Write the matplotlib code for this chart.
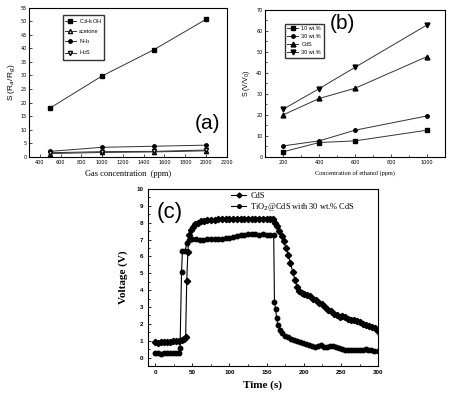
import matplotlib
matplotlib.use("Agg")
import matplotlib.pyplot as plt
from matplotlib.ticker import MultipleLocator

# (a) response vs gas concentration
conc_a = [500, 1000, 1500, 2000]
s_ethanol = [18.0, 29.8, 39.5, 50.7]
s_acetone = [1.2, 1.6, 1.8, 2.2]
s_nh3 = [2.0, 3.5, 3.9, 4.3]
s_h2s = [1.5, 1.9, 2.0, 2.5]

# (b) response vs ethanol concentration
conc_b = [200, 400, 600, 1000]
s_10wt = [2.4, 6.8, 7.6, 12.7]
s_30wt = [5.2, 7.6, 12.7, 19.5]
s_cds = [20.0, 27.8, 32.7, 47.8]
s_30wt_b = [22.7, 32.5, 42.7, 62.9]

# (c) voltage transients
t_cds = [0, 4, 8, 12, 16, 20, 24, 28, 32, 36, 39, 41, 42.5, 44, 45.5, 48, 51, 54, 58, 62,
         66, 70, 75, 80, 85, 90, 95, 100, 105, 110, 115, 120, 125, 130, 135, 140, 145, 150,
         155, 158, 161, 164, 167, 170, 173, 176, 179, 182, 185, 188, 191, 194, 197, 200,
         204, 208, 212, 216, 220, 224, 228, 232, 236, 240, 244, 248, 252, 256, 260, 264,
         268, 272, 276, 280, 284, 288, 292, 296, 300]
v_cds = [0.90, 0.88, 0.90, 0.92, 0.93, 0.95, 0.97, 0.98, 1.00, 1.03, 1.10, 1.20, 4.56, 6.25,
         7.30, 7.55, 7.75, 7.90, 8.00, 8.08, 8.12, 8.14, 8.16, 8.18, 8.20, 8.20, 8.20, 8.22,
         8.22, 8.22, 8.22, 8.22, 8.24, 8.24, 8.24, 8.24, 8.22, 8.22, 8.22, 8.20, 8.00, 7.80,
         7.50, 7.20, 6.90, 6.50, 6.10, 5.60, 5.10, 4.60, 4.20, 3.95, 3.85, 3.80, 3.70, 3.65,
         3.50, 3.40, 3.25, 3.15, 3.00, 2.85, 2.75, 2.60, 2.50, 2.40, 2.45, 2.40, 2.30, 2.25,
         2.20, 2.15, 2.10, 2.00, 1.95, 1.90, 1.82, 1.75, 1.60]

t_tio2 = [0, 4, 8, 12, 16, 20, 24, 28, 32, 33.5, 35.5, 36.7, 40, 43, 46, 50, 55, 60, 65, 70,
          75, 80, 85, 90, 95, 100, 105, 110, 115, 120, 125, 130, 135, 140, 145, 150, 155,
          159.5, 160.5, 162, 163.5, 165, 168, 171, 175, 179, 183, 187, 191, 195, 199, 203,
          207, 211, 215, 219, 223, 227, 231, 235, 239, 243, 247, 251, 255, 259, 263, 267,
          271, 275, 279, 283, 287, 291, 295, 300]
v_tio2 = [0.25, 0.25, 0.24, 0.25, 0.25, 0.25, 0.26, 0.26, 0.28, 0.56, 5.06, 6.30, 6.32, 6.80,
          7.00, 7.05, 7.02, 7.00, 7.00, 7.02, 7.02, 7.03, 7.05, 7.05, 7.10, 7.12, 7.18, 7.22,
          7.25, 7.28, 7.32, 7.35, 7.32, 7.30, 7.32, 7.30, 7.30, 7.30, 3.28, 2.88, 2.34, 1.95,
          1.65, 1.45, 1.30, 1.22, 1.12, 1.05, 0.98, 0.92, 0.85, 0.78, 0.72, 0.66, 0.62, 0.68,
          0.72, 0.62, 0.62, 0.66, 0.66, 0.60, 0.55, 0.50, 0.47, 0.45, 0.44, 0.42, 0.44, 0.42,
          0.43, 0.52, 0.42, 0.42, 0.41, 0.40]

sans = "Liberation Sans"
serif = "Liberation Serif"
lc = "#333333"

fig = plt.figure(figsize=(4.51, 3.99), dpi=100)

# ---- panel (a)
ax1 = fig.add_axes([0.065, 0.607, 0.438, 0.374])
ax1.plot(conc_a, s_ethanol, color=lc, lw=0.7, marker="s", ms=2.5, mfc="black", mec="black", label="C$_2$H$_5$OH")
ax1.plot(conc_a, s_acetone, color=lc, lw=0.7, marker="^", ms=3, mfc="white", mec="black", label="acetone")
ax1.plot(conc_a, s_nh3, color=lc, lw=0.7, marker="o", ms=2.5, mfc="black", mec="black", label="NH$_3$")
ax1.plot(conc_a, s_h2s, color=lc, lw=0.7, marker="v", ms=3, mfc="white", mec="black", label="H$_2$S")
ax1.set_xlim(300, 2200)
ax1.set_ylim(0, 55)
ax1.xaxis.set_major_locator(MultipleLocator(200))
ax1.yaxis.set_major_locator(MultipleLocator(5))
ax1.tick_params(direction="in", labelsize=3.5, length=2, width=0.5, pad=2)
ax1.set_xlabel("Gas concentration  (ppm)", fontsize=6, family=serif, labelpad=4)
ax1.set_ylabel("S (R$_a$/R$_g$)", fontsize=6, family=sans, labelpad=2)
ax1.text(0.9, 0.226, "(a)", transform=ax1.transAxes, fontsize=15, family=sans, ha="center", va="center")
ax1.legend(loc="upper left", bbox_to_anchor=(0.155, 0.968), frameon=True, fancybox=False,
           edgecolor="black", handlelength=2, borderpad=0.4, labelspacing=0.5, handletextpad=0.5,
           prop={"family": sans, "size": 4})

# ---- panel (b)
ax2 = fig.add_axes([0.588, 0.607, 0.399, 0.368])
ax2.plot(conc_b, s_10wt, color=lc, lw=0.7, marker="s", ms=2.5, mfc="black", mec="black", label="10 wt.%")
ax2.plot(conc_b, s_30wt, color=lc, lw=0.7, marker="o", ms=2.5, mfc="black", mec="black", label="30 wt.%")
ax2.plot(conc_b, s_cds, color=lc, lw=0.7, marker="^", ms=3.5, mfc="black", mec="black", label="CdS")
ax2.plot(conc_b, s_30wt_b, color=lc, lw=0.7, marker="v", ms=3.5, mfc="black", mec="black", label="30 wt.%")
ax2.set_xlim(100, 1100)
ax2.set_ylim(0, 70)
ax2.xaxis.set_major_locator(MultipleLocator(200))
ax2.xaxis.set_minor_locator(MultipleLocator(100))
ax2.yaxis.set_major_locator(MultipleLocator(10))
ax2.yaxis.set_minor_locator(MultipleLocator(5))
ax2.tick_params(which="both", direction="in", labelsize=3.5, width=0.5, pad=2)
ax2.tick_params(which="major", length=2)
ax2.tick_params(which="minor", length=1.2)
ax2.set_xlabel("Concentration of ethanol (ppm)", fontsize=4.5, family=serif, labelpad=4)
ax2.set_ylabel("S (V/V$_0$)", fontsize=5, family=sans, labelpad=3)
ax2.text(0.43, 0.905, "(b)", transform=ax2.transAxes, fontsize=15, family=sans, ha="center", va="center")
ax2.legend(loc="upper left", bbox_to_anchor=(0.094, 0.925), frameon=True, fancybox=False,
           edgecolor="black", handlelength=2, borderpad=0.45, labelspacing=0.55, handletextpad=0.5,
           prop={"family": sans, "size": 4})

# ---- panel (c)
ax3 = fig.add_axes([0.3275, 0.0827, 0.511, 0.4436])
ax3.plot(t_cds, v_cds, color="black", lw=0.8, marker="D", ms=3.2, mfc="black", mec="black", label="CdS")
ax3.plot(t_tio2, v_tio2, color="black", lw=0.8, marker="o", ms=3.2, mfc="black", mec="black",
         label="TiO$_2$@CdS with 30 wt.% CdS")
ax3.set_xlim(-10, 300)
ax3.set_ylim(-0.5, 10)
ax3.xaxis.set_major_locator(MultipleLocator(50))
ax3.xaxis.set_minor_locator(MultipleLocator(25))
ax3.yaxis.set_major_locator(MultipleLocator(1))
ax3.yaxis.set_minor_locator(MultipleLocator(0.5))
ax3.tick_params(which="both", direction="in", labelsize=4.5, width=0.6, pad=3)
ax3.tick_params(which="major", length=2.5)
ax3.tick_params(which="minor", length=1.5)
for lab in ax3.get_xticklabels() + ax3.get_yticklabels():
    lab.set_fontweight("bold")
    lab.set_family(sans)
ax3.set_xlabel("Time (s)", fontsize=8, family=serif, fontweight="bold", labelpad=4)
ax3.set_ylabel("Voltage (V)", fontsize=8, family=serif, fontweight="bold", labelpad=6)
ax3.text(0.097, 0.87, "(c)", transform=ax3.transAxes, fontsize=16, family=sans, ha="center", va="center")
ax3.legend(loc="upper left", bbox_to_anchor=(0.33, 1.025), frameon=False, handlelength=1.8,
           labelspacing=0.15, handletextpad=0.5, prop={"family": serif, "size": 6}, markerscale=0.8)

fig.savefig("out.png", dpi=100)
